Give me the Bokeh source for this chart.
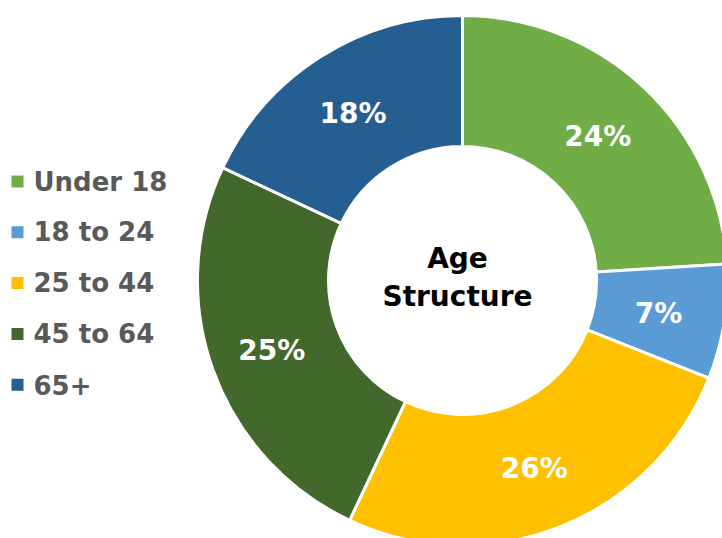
import math
from bokeh.plotting import figure
from bokeh.models import Range1d, ColumnDataSource
from bokeh.core.properties import value
from bokeh.embed import file_html
from bokeh.resources import INLINE

categories = ["Under 18", "18 to 24", "25 to 44", "45 to 64", "65+"]
percents = [24, 7, 26, 25, 18]
colors = ["#70AD47", "#5B9BD5", "#FFC000", "#43682B", "#255E91"]
center_title = ["Age", "Structure"]

W, H = 722, 538
FONT = "DejaVu Sans"

p = figure(width=W, height=H, output_backend="svg", toolbar_location=None,
           x_range=Range1d(0, W), y_range=Range1d(0, H), min_border=0)
p.axis.visible = False
p.grid.visible = False
p.outline_line_color = None
p.background_fill_color = "white"
p.border_fill_color = "white"

def px(x):
    return x

def py(y):
    return H - y

cx, cy = px(462), py(280)
R_out, R_in = 265, 134

total = sum(percents)
starts, ends, mids = [], [], []
acc = 0.0
for v in percents:
    a0 = math.pi / 2 - 2 * math.pi * acc / total
    acc += v
    a1 = math.pi / 2 - 2 * math.pi * acc / total
    starts.append(a0)
    ends.append(a1)
    mids.append((a0 + a1) / 2)

src = ColumnDataSource(dict(start=starts, end=ends, color=colors))
p.annular_wedge(x=cx, y=cy, inner_radius=R_in, outer_radius=R_out,
                start_angle="start", end_angle="end", direction="clock",
                fill_color="color", line_color="white", line_width=3, source=src)

r_lab = (R_in + R_out) / 2 + 1
lx = [cx - 2 + r_lab * math.cos(m) for m in mids]
ly = [cy - 2 + r_lab * math.sin(m) for m in mids]
p.text(x=lx, y=ly, text=[f"{v}%" for v in percents], text_color="white",
       text_font=value(FONT), text_font_style="bold", text_font_size="28px",
       text_align="center", text_baseline="middle")

p.text(x=[px(457), px(457)], y=[py(258), py(296)], text=center_title, text_color="black",
       text_font=value(FONT), text_font_style="bold", text_font_size="28px",
       text_align="center", text_baseline="middle")

leg_y = [py(181 + 50.8 * i) for i in range(len(categories))]
p.scatter(x=[px(17)] * len(categories), y=leg_y, marker="square", size=12,
          fill_color=colors, line_color=None)
p.text(x=[px(33)] * len(categories), y=leg_y, text=categories, text_color="#595959",
       text_font=value(FONT), text_font_style="bold", text_font_size="26px",
       text_align="left", text_baseline="middle")

open("out.html", "w").write(file_html(p, INLINE))
